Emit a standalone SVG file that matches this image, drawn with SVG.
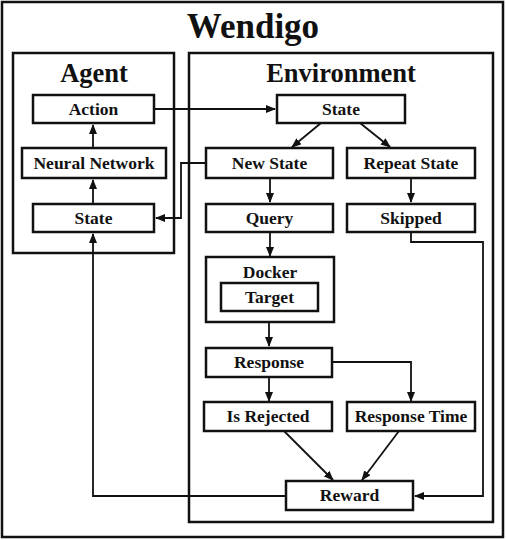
<svg xmlns="http://www.w3.org/2000/svg" width="506" height="540" viewBox="0 0 506 540">
<style>
.box{fill:#fff;stroke:#111;stroke-width:2.5}
.frame{fill:none;stroke:#111;stroke-width:2.5}
.t{font-family:"Liberation Serif","Times New Roman",serif;font-weight:bold;font-size:17.5px;text-anchor:middle;fill:#111}
.h{font-family:"Liberation Serif","Times New Roman",serif;font-weight:bold;font-size:26.5px;text-anchor:middle;fill:#111}
.c{fill:none;stroke:#111;stroke-width:1.8}
</style>
<defs>
<marker id="ah" markerWidth="10" markerHeight="8" refX="9" refY="4" orient="auto" markerUnits="userSpaceOnUse">
<path d="M0,0 L10,4 L0,8 Z" fill="#111"/>
</marker>
</defs>
<rect width="506" height="540" fill="#fff"/>
<g id="wendigo">
<rect class="frame" x="2" y="2" width="501" height="535" stroke-width="3"/>
<text x="253" y="38" class="h" font-size="35" style="font-size:35px">Wendigo</text>
</g>
<g id="agent">
<rect class="frame" x="13" y="53" width="161" height="200"/>
<text x="94" y="82" class="h">Agent</text>
</g>
<g id="environment">
<rect class="frame" x="189" y="53" width="304" height="469"/>
<text x="341" y="82" class="h">Environment</text>
</g>
<g id="connectors">
<path class="c" d="M154,109 H275" marker-end="url(#ah)"/>
<path class="c" d="M321,123 L292,147" marker-end="url(#ah)"/>
<path class="c" d="M360,123 L390,147" marker-end="url(#ah)"/>
<path class="c" d="M93,204 V180" marker-end="url(#ah)"/>
<path class="c" d="M93,148 V125" marker-end="url(#ah)"/>
<path class="c" d="M206,163 H181 V218 H156" marker-end="url(#ah)"/>
<path class="c" d="M270,178 V202" marker-end="url(#ah)"/>
<path class="c" d="M411,178 V202" marker-end="url(#ah)"/>
<path class="c" d="M270,232 V256" marker-end="url(#ah)"/>
<path class="c" d="M269,322 V346" marker-end="url(#ah)"/>
<path class="c" d="M332,362 H411 V401" marker-end="url(#ah)"/>
<path class="c" d="M269,377 V401" marker-end="url(#ah)"/>
<path class="c" d="M284,431 L333,480" marker-end="url(#ah)"/>
<path class="c" d="M399,431 L362,480" marker-end="url(#ah)"/>
<path class="c" d="M411,232 V242 H483 V496 H415" marker-end="url(#ah)"/>
<path class="c" d="M286,496 H93 V234" marker-end="url(#ah)"/>
</g>
<g id="action"><rect class="box" x="33" y="95" width="121" height="28"/><text x="93.5" y="115" class="t">Action</text></g>
<g id="neural-network"><rect class="box" x="22" y="148" width="144" height="30"/><text x="94" y="169" class="t">Neural Network</text></g>
<g id="agent-state"><rect class="box" x="33" y="204" width="121" height="28"/><text x="93.5" y="224" class="t">State</text></g>
<g id="env-state"><rect class="box" x="277" y="95" width="128" height="28"/><text x="341" y="115" class="t">State</text></g>
<g id="new-state"><rect class="box" x="206" y="148" width="127" height="30"/><text x="269.5" y="169" class="t">New State</text></g>
<g id="repeat-state"><rect class="box" x="347" y="148" width="128" height="30"/><text x="411" y="169" class="t">Repeat State</text></g>
<g id="query"><rect class="box" x="206" y="204" width="127" height="28"/><text x="269.5" y="224" class="t">Query</text></g>
<g id="skipped"><rect class="box" x="347" y="204" width="128" height="28"/><text x="411" y="224" class="t">Skipped</text></g>
<g id="docker"><rect class="box" x="206" y="257" width="128" height="65"/><text x="270" y="278" class="t">Docker</text></g>
<g id="target"><rect class="box" x="221" y="283" width="97" height="28"/><text x="269.5" y="303" class="t">Target</text></g>
<g id="response"><rect class="box" x="206" y="348" width="126" height="29"/><text x="269" y="368" class="t">Response</text></g>
<g id="is-rejected"><rect class="box" x="204" y="402" width="128" height="29"/><text x="268" y="422" class="t">Is Rejected</text></g>
<g id="response-time"><rect class="box" x="347" y="402" width="128" height="29"/><text x="411" y="422" class="t">Response Time</text></g>
<g id="reward"><rect class="box" x="286" y="481" width="127" height="29"/><text x="349.5" y="501" class="t">Reward</text></g>
</svg>
